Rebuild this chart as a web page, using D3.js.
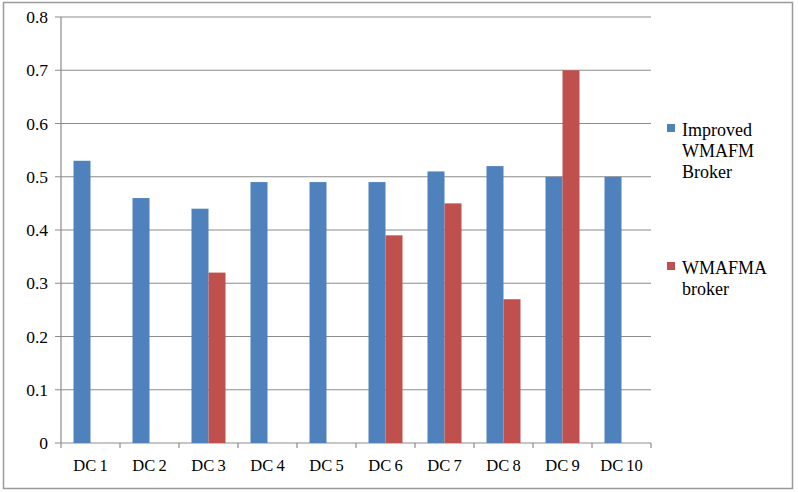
<!DOCTYPE html>
<html>
<head>
<meta charset="utf-8">
<script src="https://cdn.jsdelivr.net/npm/d3@7"></script>
<style>
body { margin: 0; background: #fff; }
</style>
</head>
<body>
<script>
const categories = ["DC 1", "DC 2", "DC 3", "DC 4", "DC 5", "DC 6", "DC 7", "DC 8", "DC 9", "DC 10"]
const improved = [0.53, 0.46, 0.44, 0.49, 0.49, 0.49, 0.51, 0.52, 0.50, 0.50]
const wmafma = [null, null, 0.32, null, null, 0.39, 0.45, 0.27, 0.70, null]
const seriesNames = [["Improved", "WMAFM", "Broker"], ["WMAFMA", "broker"]]
const colors = ["#4F81BD", "#C0504D"]
const yTicks = [0, 0.1, 0.2, 0.3, 0.4, 0.5, 0.6, 0.7, 0.8]

const width = 798
const height = 492
const plotLeft = 61, plotRight = 651, plotTop = 17, plotBottom = 443

const svg = d3.select("body").append("svg")
    .attr("width", width)
    .attr("height", height)
    .attr("font-family", "Liberation Serif")

// outer frame
svg.append("rect")
    .attr("x", 3.5).attr("y", 2.5)
    .attr("width", 789).attr("height", 486)
    .attr("fill", "none")
    .attr("stroke", "#9a9a9a")
    .attr("stroke-width", 1.5)

const x = d3.scaleBand()
    .domain(categories)
    .range([plotLeft, plotRight])
    .paddingInner(0)

const y = d3.scaleLinear()
    .domain([0, 0.8])
    .range([plotBottom, plotTop])

// gridlines
svg.append("g")
    .selectAll("line")
    .data(yTicks)
    .enter().append("line")
    .attr("x1", plotLeft - 6)
    .attr("x2", plotRight)
    .attr("y1", d => y(d))
    .attr("y2", d => y(d))
    .attr("stroke", "#8c8c8c")
    .attr("stroke-width", 1.2)

// y labels
svg.append("g")
    .selectAll("text")
    .data(yTicks)
    .enter().append("text")
    .attr("x", 48)
    .attr("y", d => y(d) + 6)
    .attr("text-anchor", "end")
    .attr("font-size", 17.5)
    .text(d => d === 0 ? "0" : d.toFixed(1))

// bars
const barW = 17
const bw = x.bandwidth()
const groups = [improved, wmafma]
groups.forEach((vals, si) => {
    svg.append("g")
        .selectAll("rect")
        .data(categories.map((c, i) => ({c, v: vals[i]})).filter(d => d.v !== null))
        .enter().append("rect")
        .attr("x", d => x(d.c) + bw / 2 - barW + si * barW)
        .attr("y", d => y(d.v))
        .attr("width", barW)
        .attr("height", d => y(0) - y(d.v))
        .attr("fill", colors[si])
})

// axes lines
svg.append("line")
    .attr("x1", plotLeft).attr("x2", plotLeft)
    .attr("y1", plotTop).attr("y2", plotBottom)
    .attr("stroke", "#8c8c8c").attr("stroke-width", 1.2)

svg.append("g")
    .selectAll("line")
    .data(categories.concat(["end"]))
    .enter().append("line")
    .attr("x1", (d, i) => plotLeft + i * bw)
    .attr("x2", (d, i) => plotLeft + i * bw)
    .attr("y1", plotBottom)
    .attr("y2", plotBottom + 5)
    .attr("stroke", "#8c8c8c").attr("stroke-width", 1.2)

// x labels
svg.append("g")
    .selectAll("text")
    .data(categories)
    .enter().append("text")
    .attr("x", d => x(d) + bw / 2)
    .attr("y", 471)
    .attr("text-anchor", "middle")
    .attr("font-size", 16.5)
    .attr("word-spacing", -1)
    .text(d => d)

// legend
const legendY = [124, 262]
seriesNames.forEach((lines, si) => {
    const g = svg.append("g")
    g.append("rect")
        .attr("x", 667).attr("y", legendY[si])
        .attr("width", 8).attr("height", 8)
        .attr("fill", colors[si])
    g.selectAll("text")
        .data(lines)
        .enter().append("text")
        .attr("x", 682)
        .attr("y", (d, i) => legendY[si] + 12 + i * 21)
        .attr("font-size", 18)
        .text(d => d)
})
</script>
</body>
</html>
